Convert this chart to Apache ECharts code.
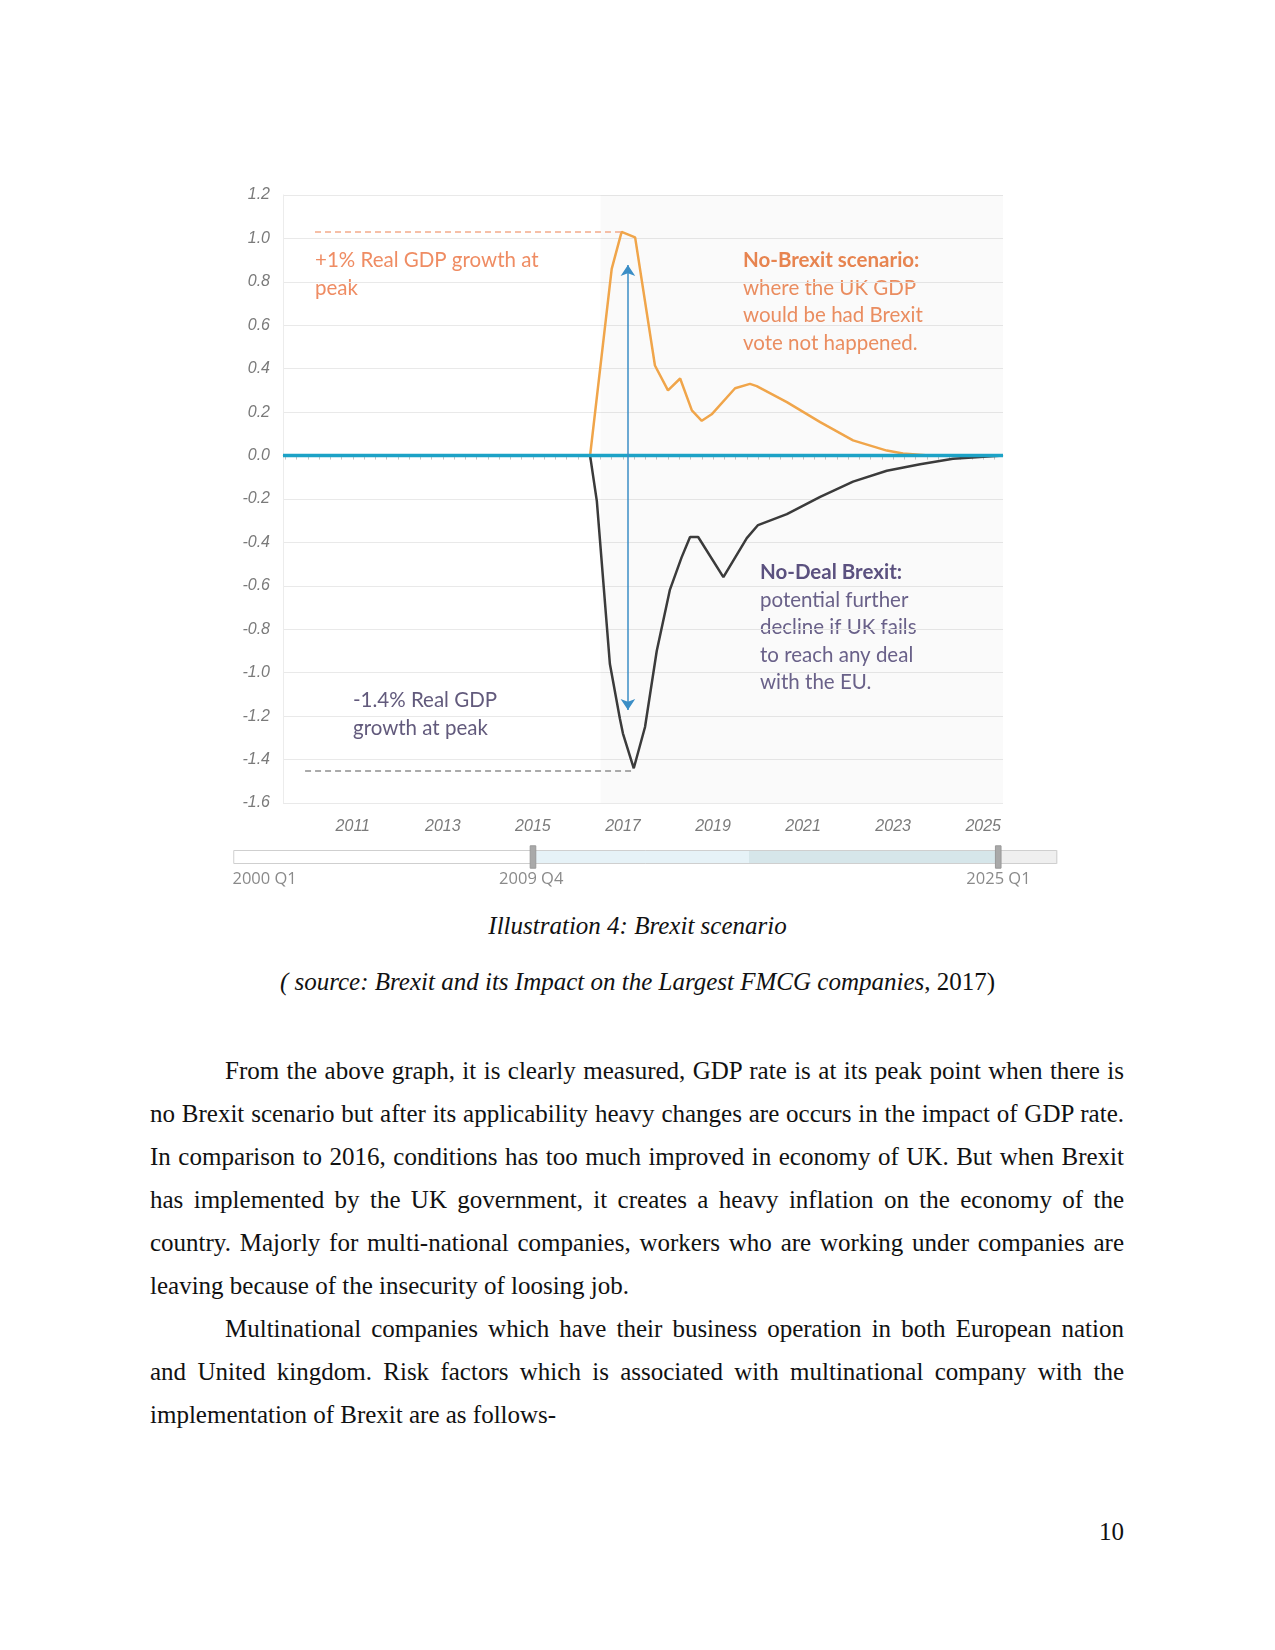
<!DOCTYPE html>
<html><head><meta charset="utf-8">
<script src="https://cdn.jsdelivr.net/npm/echarts@6/dist/echarts.min.js"></script>
<style>
html,body{margin:0;padding:0;background:#fff;}
#page{position:relative;width:1275px;height:1650px;overflow:hidden;background:#fff;}
#chart{position:absolute;left:0;top:0;width:1275px;height:900px;}
.t{position:absolute;font-family:"Liberation Serif","Times New Roman",serif;font-size:25px;color:#111;white-space:nowrap;line-height:43px;height:43px;}
.j{left:150px;width:974px;text-align:justify;text-align-last:justify;}
.ji{left:225px;width:899px;text-align:justify;text-align-last:justify;}
.l{left:150px;}
.c{left:0;width:1275px;text-align:center;font-style:italic;}
.n{font-style:normal;}
.pn{left:1000px;width:124px;text-align:right;}
</style></head>
<body>
<div id="page">
<div id="chart"></div>
<div class="t c" style="top:904px">Illustration 4: Brexit scenario</div>
<div class="t c" style="top:960px">( source: Brexit and its Impact on the Largest FMCG companies<span class="n">, 2017)</span></div>
<div class="t ji" style="top:1049px">From the above graph, it is clearly measured, GDP rate is at its peak point when there is</div>
<div class="t j" style="top:1092px">no Brexit scenario but after its applicability heavy changes are occurs in the impact of GDP rate.</div>
<div class="t j" style="top:1135px">In comparison to 2016, conditions has too much improved in economy of UK. But when Brexit</div>
<div class="t j" style="top:1178px">has implemented by the UK government, it creates a heavy inflation on the economy of the</div>
<div class="t j" style="top:1221px">country. Majorly for multi-national companies, workers who are working under companies are</div>
<div class="t l" style="top:1264px">leaving because of the insecurity of loosing job.</div>
<div class="t ji" style="top:1307px">Multinational companies which have their business operation in both European nation</div>
<div class="t j" style="top:1350px">and United kingdom. Risk factors which is associated with multinational company with the</div>
<div class="t l" style="top:1393px">implementation of Brexit are as follows-</div>
<div class="t pn" style="top:1510px">10</div>
</div>
<script>
// ---- data ----
const yearLabels = [2011, 2013, 2015, 2017, 2019, 2021, 2023, 2025];
const xMin = 2009.45, xMax = 2025.44;
const yMin = -1.6, yMax = 1.2, yStep = 0.2;

const noBrexitYears  = [2016.27, 2016.75, 2016.97, 2017.27, 2017.71, 2018.00, 2018.27, 2018.53, 2018.75, 2018.97, 2019.49, 2019.82, 2019.97, 2020.64, 2021.38, 2022.11, 2022.86, 2023.22, 2023.80, 2025.44];
const noBrexitValues = [0, 0.86, 1.03, 1.005, 0.415, 0.30, 0.355, 0.208, 0.16, 0.19, 0.31, 0.33, 0.32, 0.246, 0.154, 0.07, 0.023, 0.01, 0.0, 0];

const noDealYears  = [2016.27, 2016.42, 2016.71, 2016.93, 2017.00, 2017.24, 2017.49, 2017.75, 2018.04, 2018.30, 2018.49, 2018.67, 2019.23, 2019.75, 2020.00, 2020.64, 2021.38, 2022.11, 2022.86, 2023.60, 2024.33, 2025.44];
const noDealValues = [0, -0.21, -0.96, -1.21, -1.28, -1.44, -1.25, -0.90, -0.62, -0.47, -0.375, -0.375, -0.56, -0.38, -0.32, -0.27, -0.19, -0.12, -0.07, -0.04, -0.015, 0];

const baselineYears  = [xMin, xMax];
const baselineValues = [0, 0];

const forecastStart = 2016.5;
const peakHigh = 1.03, peakHighFrom = 2010.16, peakHighTo = 2016.97;
const peakLow = -1.453, peakLowFrom = 2009.94, peakLowTo = 2017.24;
const arrowYear = 2017.11, arrowTop = 0.878, arrowBottom = -1.172;

const sliderRange = [2000, 2026.9];
const sliderWindow = [2009.75, 2025.0];
const sliderLabels = [2000, 2009.75, 2025];

const zip = (xs, ys) => xs.map((x, i) => [x, ys[i]]);
const quarterTicks = [];
for (let q = Math.ceil(xMin * 4); q <= Math.floor(xMax * 4); q++) quarterTicks.push(q / 4);
const qLabel = v => Math.floor(v + 1e-6) + ' Q' + (Math.round((v - Math.floor(v + 1e-6)) * 4) + 1);

const chart = echarts.init(document.getElementById('chart'), null, {renderer: 'canvas'});
const annoFont = 'Lato, "Open Sans", sans-serif';
const annoSize = 20.5;
chart.setOption({
  animation: false,
  backgroundColor: 'transparent',
  grid: [
    {left: 283, top: 195, width: 720, height: 608},
    {left: 232.5, top: 850, width: 824.2, height: 14, show: false},
    {left: 232.5, top: 850, width: 824.2, height: 14, show: false}
  ],
  xAxis: [
    {type: 'value', gridIndex: 0, min: xMin, max: xMax,
     axisLine: {show: true, lineStyle: {color: '#d6d6d6', width: 1}},
     axisTick: {show: true, customValues: quarterTicks, length: 4, lineStyle: {color: '#c4c4c4'}},
     axisLabel: {customValues: yearLabels, formatter: v => String(Math.round(v)), color: '#7a7a7a', fontStyle: 'italic', fontFamily: '"Liberation Sans", Arial, sans-serif', fontSize: 16, margin: 16},
     splitLine: {show: false}},
    {type: 'value', gridIndex: 1, min: sliderRange[0], max: sliderRange[1], show: false},
    {type: 'value', gridIndex: 2, min: sliderRange[0], max: sliderRange[1],
     axisLine: {show: false}, axisTick: {show: false}, splitLine: {show: false},
     axisLabel: {customValues: sliderLabels, formatter: qLabel, color: '#8a8a8a', fontFamily: '"Open Sans", "Liberation Sans", sans-serif', fontSize: 16.5, margin: 7, alignMinLabel: 'left'}}
  ],
  yAxis: [
    {type: 'value', gridIndex: 0, min: yMin, max: yMax, interval: yStep,
     axisLine: {show: true, lineStyle: {color: '#ececec'}},
     axisTick: {show: false},
     axisLabel: {formatter: v => v.toFixed(1), color: '#7a7a7a', fontStyle: 'italic', fontFamily: '"Liberation Sans", Arial, sans-serif', fontSize: 16, margin: 13},
     splitLine: {show: true, lineStyle: {color: '#e9e9e9', width: 1}}},
    {type: 'value', gridIndex: 1, show: false},
    {type: 'value', gridIndex: 2, show: false}
  ],
  dataZoom: [{
    type: 'slider', xAxisIndex: [1], filterMode: 'none',
    startValue: sliderWindow[0], endValue: sliderWindow[1],
    left: 232.5, width: 824.2, top: 850, height: 14,
    showDataShadow: false, showDetail: false, brushSelect: false, moveHandleSize: 0,
    borderColor: '#cfcfcf', borderRadius: 0,
    backgroundColor: new echarts.graphic.LinearGradient(0, 0, 1, 0, [
      {offset: 0, color: '#ffffff'}, {offset: 0.93, color: '#ffffff'},
      {offset: 0.93, color: '#efefef'}, {offset: 1, color: '#efefef'}]),
    fillerColor: new echarts.graphic.LinearGradient(0, 0, 1, 0, [
      {offset: 0, color: '#e6f2f7'}, {offset: 0.465, color: '#e6f2f7'},
      {offset: 0.465, color: '#d6e6ea'}, {offset: 1, color: '#d6e6ea'}]),
    handleIcon: 'path://M0,0 L6,0 L6,24 L0,24 Z',
    handleSize: '160%',
    handleStyle: {color: '#a9a9a9', borderColor: '#999', borderWidth: 1},
    emphasis: {handleStyle: {color: '#a9a9a9'}}
  }],
  graphic: [
    {type: 'text', left: 315, top: 246, silent: true,
     style: {text: '+1% Real GDP growth at\npeak', font: annoSize + 'px ' + annoFont, fill: '#ef8c63', lineHeight: 28}},
    {type: 'text', left: 743, top: 247, silent: true,
     style: {text: '{b|No-Brexit scenario:}\nwhere the UK GDP\nwould be had Brexit\nvote not happened.', font: annoSize + 'px ' + annoFont, fill: '#ef9062', lineHeight: 27.5,
       rich: {b: {fontWeight: 'bold', fontFamily: annoFont, fontSize: annoSize, fill: '#ec8752', lineHeight: 27.5}}}},
    {type: 'text', left: 353, top: 686, silent: true,
     style: {text: '-1.4% Real GDP\ngrowth at peak', font: annoSize + 'px ' + annoFont, fill: '#625a7c', lineHeight: 28}},
    {type: 'text', left: 760, top: 559, silent: true,
     style: {text: '{b|No-Deal Brexit:}\npotential further\ndecline if UK fails\nto reach any deal\nwith the EU.', font: annoSize + 'px ' + annoFont, fill: '#6c638c', lineHeight: 27.5,
       rich: {b: {fontWeight: 'bold', fontFamily: annoFont, fontSize: annoSize, fill: '#5d5382', lineHeight: 27.5}}}}
  ],
  series: [
    {name: 'No-Brexit scenario', type: 'line', xAxisIndex: 0, yAxisIndex: 0,
     data: zip(noBrexitYears, noBrexitValues), symbol: 'none', z: 3,
     lineStyle: {color: '#f0a54a', width: 2.5}, itemStyle: {color: '#f0a54a'},
     markArea: {silent: true, itemStyle: {color: 'rgba(0,0,0,0.018)'},
       data: [[{xAxis: forecastStart}, {xAxis: xMax}]]},
     markLine: {silent: true, symbol: 'none', label: {show: false},
       lineStyle: {color: '#f3ab8a', type: [6, 4], width: 1.5},
       data: [[{coord: [peakHighFrom, peakHigh]}, {coord: [peakHighTo, peakHigh]}]]}},
    {name: 'No-Deal Brexit', type: 'line', xAxisIndex: 0, yAxisIndex: 0,
     data: zip(noDealYears, noDealValues), symbol: 'none', z: 3,
     lineStyle: {color: '#3b3b3b', width: 2.5}, itemStyle: {color: '#3b3b3b'},
     markLine: {silent: true, symbol: 'none', label: {show: false},
       lineStyle: {color: '#8f8f8f', type: [6, 4], width: 1.5},
       data: [[{coord: [peakLowFrom, peakLow]}, {coord: [peakLowTo, peakLow]}]]}},
    {name: 'Baseline', type: 'line', xAxisIndex: 0, yAxisIndex: 0,
     data: zip(baselineYears, baselineValues), symbol: 'none', z: 4,
     lineStyle: {color: '#1ca2c6', width: 3.5}, itemStyle: {color: '#1ca2c6'},
     markLine: {silent: true, symbol: ['arrow', 'arrow'], symbolSize: 11, label: {show: false},
       lineStyle: {color: '#3b8ec6', type: 'solid', width: 1.5},
       data: [[{coord: [arrowYear, arrowTop]}, {coord: [arrowYear, arrowBottom]}]]}},
    {name: 'range', type: 'line', xAxisIndex: 1, yAxisIndex: 1,
     data: zip(sliderRange, [0, 0]), symbol: 'none', silent: true,
     lineStyle: {opacity: 0}}
  ]
});
</script>
</body></html>
